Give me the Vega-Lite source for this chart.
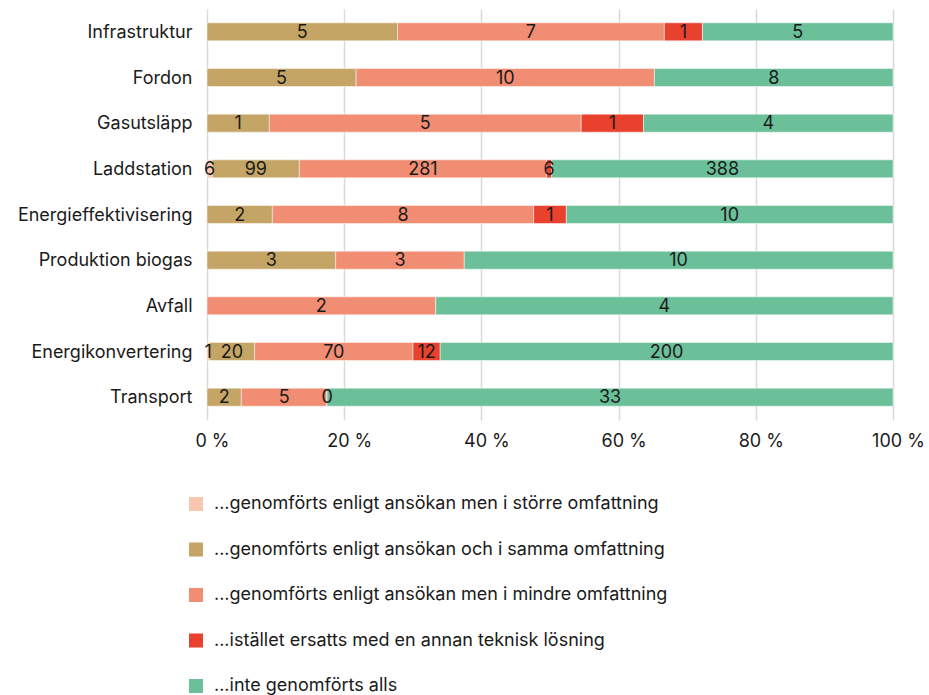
{
  "$schema": "https://vega.github.io/schema/vega-lite/v6.json",
  "autosize": {"type": "none"},
  "padding": {"left": 207, "top": 9, "right": 36, "bottom": 275},
  "width": 686,
  "height": 411,
  "background": "#ffffff",
  "config": {
    "font": "Inter",
    "view": {"stroke": null},
    "axis": {"labelFont": "Inter", "labelColor": "#1a1a1a", "labelFontSize": 18},
    "legend": {"labelFont": "Inter", "labelColor": "#1a1a1a", "labelFontSize": 18}
  },
  "data": {
    "values": [
      {"omrade": "Infrastruktur", "utfall": "...genomförts enligt ansökan och i samma omfattning", "antal": 5},
      {"omrade": "Infrastruktur", "utfall": "...genomförts enligt ansökan men i mindre omfattning", "antal": 7},
      {"omrade": "Infrastruktur", "utfall": "...istället ersatts med en annan teknisk lösning", "antal": 1},
      {"omrade": "Infrastruktur", "utfall": "...inte genomförts alls", "antal": 5},
      {"omrade": "Fordon", "utfall": "...genomförts enligt ansökan och i samma omfattning", "antal": 5},
      {"omrade": "Fordon", "utfall": "...genomförts enligt ansökan men i mindre omfattning", "antal": 10},
      {"omrade": "Fordon", "utfall": "...inte genomförts alls", "antal": 8},
      {"omrade": "Gasutsläpp", "utfall": "...genomförts enligt ansökan och i samma omfattning", "antal": 1},
      {"omrade": "Gasutsläpp", "utfall": "...genomförts enligt ansökan men i mindre omfattning", "antal": 5},
      {"omrade": "Gasutsläpp", "utfall": "...istället ersatts med en annan teknisk lösning", "antal": 1},
      {"omrade": "Gasutsläpp", "utfall": "...inte genomförts alls", "antal": 4},
      {"omrade": "Laddstation", "utfall": "...genomförts enligt ansökan men i större omfattning", "antal": 6},
      {"omrade": "Laddstation", "utfall": "...genomförts enligt ansökan och i samma omfattning", "antal": 99},
      {"omrade": "Laddstation", "utfall": "...genomförts enligt ansökan men i mindre omfattning", "antal": 281},
      {"omrade": "Laddstation", "utfall": "...istället ersatts med en annan teknisk lösning", "antal": 6},
      {"omrade": "Laddstation", "utfall": "...inte genomförts alls", "antal": 388},
      {"omrade": "Energieffektivisering", "utfall": "...genomförts enligt ansökan och i samma omfattning", "antal": 2},
      {"omrade": "Energieffektivisering", "utfall": "...genomförts enligt ansökan men i mindre omfattning", "antal": 8},
      {"omrade": "Energieffektivisering", "utfall": "...istället ersatts med en annan teknisk lösning", "antal": 1},
      {"omrade": "Energieffektivisering", "utfall": "...inte genomförts alls", "antal": 10},
      {"omrade": "Produktion biogas", "utfall": "...genomförts enligt ansökan och i samma omfattning", "antal": 3},
      {"omrade": "Produktion biogas", "utfall": "...genomförts enligt ansökan men i mindre omfattning", "antal": 3},
      {"omrade": "Produktion biogas", "utfall": "...inte genomförts alls", "antal": 10},
      {"omrade": "Avfall", "utfall": "...genomförts enligt ansökan men i mindre omfattning", "antal": 2},
      {"omrade": "Avfall", "utfall": "...inte genomförts alls", "antal": 4},
      {"omrade": "Energikonvertering", "utfall": "...genomförts enligt ansökan men i större omfattning", "antal": 1},
      {"omrade": "Energikonvertering", "utfall": "...genomförts enligt ansökan och i samma omfattning", "antal": 20},
      {"omrade": "Energikonvertering", "utfall": "...genomförts enligt ansökan men i mindre omfattning", "antal": 70},
      {"omrade": "Energikonvertering", "utfall": "...istället ersatts med en annan teknisk lösning", "antal": 12},
      {"omrade": "Energikonvertering", "utfall": "...inte genomförts alls", "antal": 200},
      {"omrade": "Transport", "utfall": "...genomförts enligt ansökan och i samma omfattning", "antal": 2},
      {"omrade": "Transport", "utfall": "...genomförts enligt ansökan men i mindre omfattning", "antal": 5},
      {"omrade": "Transport", "utfall": "...istället ersatts med en annan teknisk lösning", "antal": 0},
      {"omrade": "Transport", "utfall": "...inte genomförts alls", "antal": 33}
    ]
  },
  "transform": [
    {
      "calculate": "indexof(['...genomförts enligt ansökan men i större omfattning', '...genomförts enligt ansökan och i samma omfattning', '...genomförts enligt ansökan men i mindre omfattning', '...istället ersatts med en annan teknisk lösning', '...inte genomförts alls'], datum.utfall)",
      "as": "stapelordning"
    }
  ],
  "encoding": {
    "y": {
      "field": "omrade",
      "type": "nominal",
      "sort": ["Infrastruktur", "Fordon", "Gasutsläpp", "Laddstation", "Energieffektivisering", "Produktion biogas", "Avfall", "Energikonvertering", "Transport"],
      "scale": {"paddingInner": 0.605, "paddingOuter": 0.3025},
      "axis": {"title": null, "domain": false, "ticks": false, "labelPadding": 15, "labelOffset": 1}
    },
    "order": {"field": "stapelordning", "type": "quantitative"}
  },
  "layer": [
    {
      "mark": {"type": "bar", "stroke": "#ffffff", "strokeWidth": 0.5},
      "encoding": {
        "x": {
          "field": "antal",
          "type": "quantitative",
          "stack": "normalize",
          "scale": {"domain": [0, 1]},
          "axis": {
            "title": null,
            "values": [0, 0.2, 0.4, 0.6, 0.8, 1],
            "labelExpr": "format(datum.value * 100, 'd') + ' %'",
            "domain": false,
            "ticks": false,
            "grid": true,
            "gridColor": "#d9d9d9",
            "gridWidth": 1.5,
            "labelPadding": 12,
            "labelOffset": 5,
            "labelFlush": false
          }
        },
        "color": {
          "field": "utfall",
          "type": "nominal",
          "scale": {
            "domain": [
              "...genomförts enligt ansökan men i större omfattning",
              "...genomförts enligt ansökan och i samma omfattning",
              "...genomförts enligt ansökan men i mindre omfattning",
              "...istället ersatts med en annan teknisk lösning",
              "...inte genomförts alls"
            ],
            "range": ["#f9c7b1", "#c4a566", "#f08d72", "#e8412d", "#6bbf99"]
          },
          "legend": {
            "title": null,
            "orient": "none",
            "legendX": -20,
            "legendY": 486,
            "direction": "vertical",
            "symbolType": "square",
            "symbolSize": 196,
            "symbolStrokeWidth": 0,
            "symbolOpacity": 1,
            "rowPadding": 27.5,
            "labelOffset": 9,
            "labelLimit": 600
          }
        }
      }
    },
    {
      "mark": {"type": "text", "fontSize": 18, "baseline": "middle", "align": "center", "dy": 1, "color": "#1a1a1a"},
      "encoding": {
        "x": {"field": "antal", "type": "quantitative", "stack": "normalize", "bandPosition": 0.5},
        "detail": {"field": "utfall", "type": "nominal"},
        "text": {"field": "antal", "type": "quantitative"}
      }
    }
  ]
}
